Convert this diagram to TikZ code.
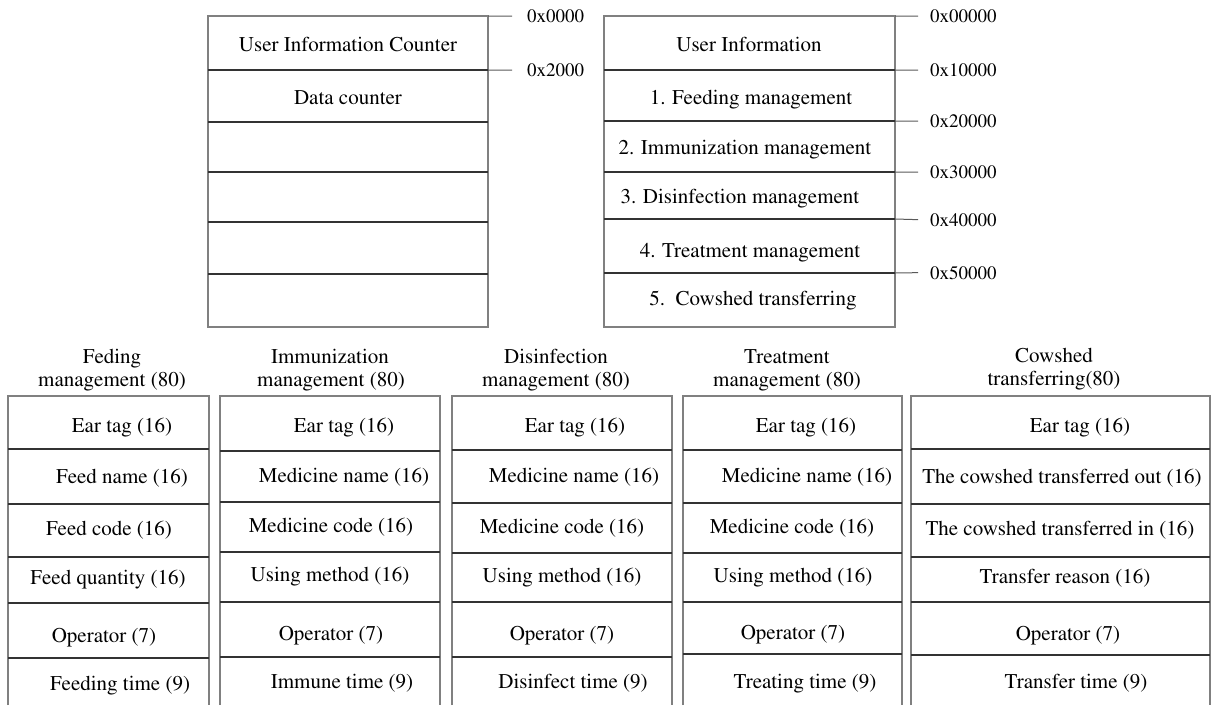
\documentclass[tikz,border=0pt]{standalone}
\usepackage[T1]{fontenc}
\usepackage{times}
\begin{document}
\begin{tikzpicture}[x=1pt,y=-1pt,
  frame/.style={draw=black!50, line width=1.1pt},
  rowline/.style={draw=black!80, line width=1.1pt},
  tick/.style={draw=black!65, line width=1pt},
  cell/.style={anchor=base, inner sep=0pt, font=\fontsize{21}{25}\selectfont},
  addr/.style={anchor=base west, inner sep=0pt, font=\fontsize{19}{22}\selectfont}]
\useasboundingbox (0,0) rectangle (1214,705);

% ---------- counter area (left memory map) ----------
\draw[frame] (208,16) rectangle (488,327);
\foreach \y in {70,122,172,222,274} \draw[rowline] (208,\y) -- (488,\y);
\node[cell] (uic) at (348,51) {User Information Counter};
\node[cell] (dc)  at (348,104) {Data counter};
\coordinate (l0) at (488,16);
\coordinate (l1) at (488,70);
\node[addr] (a0) at (527,22.5) {0x0000};
\node[addr] (a1) at (527,76.5) {0x2000};
\draw[tick] (l0) -- ([xshift=-15pt]a0.west);
\draw[tick] (l1) -- ([xshift=-15pt]a1.west);

% ---------- user information area (right memory map) ----------
\draw[frame] (604,16) rectangle (895,327);
\foreach \y in {70,121,172,219,273} \draw[rowline] (604,\y) -- (895,\y);
\node[cell] (ui) at (749,51)  {User Information};
\node[cell] (m1) at (751,104) {1. Feeding management};
\node[cell] (m2) at (745,154) {2. Immunization management};
\node[cell] (m3) at (740,203) {3. Disinfection management};
\node[cell] (m4) at (750,257) {4. Treatment management};
\node[cell] (m5) at (753,305) {5.\ \ Cowshed transferring};
\foreach \n/\y/\b/\t in {0/16/22.5/0x00000, 1/70/76.5/0x10000, 2/121/127.5/0x20000,
                         3/172/178.5/0x30000, 4/219/226/0x40000, 5/273/279/0x50000} {
  \coordinate (r\n) at (895,\y);
  \node[addr] (b\n) at (930,\b) {\t};
  \draw[tick] (r\n) -- ([xshift=-12pt]b\n.west);
}

% ---------- record layouts ----------
% Feeding
\node[cell] (h1a) at (112,363) {Feding};
\node[cell] (h1b) at (112,386) {management (80)};
\draw[frame] (8,705) -- (8,396) -- (209,396) -- (209,705);
\foreach \y in {449,504,557,603,658} \draw[rowline] (8,\y) -- (209,\y);
\node[cell] (f1) at (122,432) {Ear tag (16)};
\node[cell] (f2) at (122,483) {Feed name (16)};
\node[cell] (f3) at (109,535) {Feed code (16)};
\node[cell] (f4) at (108,584) {Feed quantity (16)};
\node[cell] (f5) at (104,642) {Operator (7)};
\node[cell] (f6) at (120,690) {Feeding time (9)};

% Immunization
\node[cell] (h2a) at (330,363) {Immunization};
\node[cell] (h2b) at (331,386) {management (80)};
\draw[frame] (220,705) -- (220,396) -- (440,396) -- (440,705);
\foreach \y in {451,502,552,602,657} \draw[rowline] (220,\y) -- (440,\y);
\node[cell] (i1) at (344,432) {Ear tag (16)};
\node[cell] (i2) at (344,482) {Medicine name (16)};
\node[cell] (i3) at (331,532) {Medicine code (16)};
\node[cell] (i4) at (330,581) {Using method (16)};
\node[cell] (i5) at (331,640) {Operator (7)};
\node[cell] (i6) at (342,688) {Immune time (9)};

% Disinfection
\node[cell] (h3a) at (556,363) {Disinfection};
\node[cell] (h3b) at (556,386) {management (80)};
\draw[frame] (452,705) -- (452,396) -- (672,396) -- (672,705);
\foreach \y in {450,503,553,602,657} \draw[rowline] (452,\y) -- (672,\y);
\node[cell] (d1) at (575,432) {Ear tag (16)};
\node[cell] (d2) at (574,482) {Medicine name (16)};
\node[cell] (d3) at (562,533) {Medicine code (16)};
\node[cell] (d4) at (562,582) {Using method (16)};
\node[cell] (d5) at (562,640) {Operator (7)};
\node[cell] (d6) at (573,688) {Disinfect time (9)};

% Treatment
\node[cell] (h4a) at (787,363) {Treatment};
\node[cell] (h4b) at (787,386) {management (80)};
\draw[frame] (683,705) -- (683,396) -- (902,396) -- (902,705);
\foreach \y in {450,503,553,602,654} \draw[rowline] (683,\y) -- (902,\y);
\node[cell] (t1) at (806,432) {Ear tag (16)};
\node[cell] (t2) at (807,482) {Medicine name (16)};
\node[cell] (t3) at (792,533) {Medicine code (16)};
\node[cell] (t4) at (793,582) {Using method (16)};
\node[cell] (t5) at (793,639) {Operator (7)};
\node[cell] (t6) at (805,688) {Treating time (9)};

% Cowshed transferring
\node[cell] (h5a) at (1054,362) {Cowshed};
\node[cell] (h5b) at (1054,385) {transferring(80)};
\draw[frame] (911,705) -- (911,396) -- (1210,396) -- (1210,705);
\foreach \y in {449,504,557,602,655} \draw[rowline] (911,\y) -- (1210,\y);
\node[cell] (c1) at (1080,432) {Ear tag (16)};
\node[cell] (c2) at (1062,483) {The cowshed transferred out (16)};
\node[cell] (c3) at (1060,535) {The cowshed transferred in (16)};
\node[cell] (c4) at (1065,583) {Transfer reason (16)};
\node[cell] (c5) at (1068,640) {Operator (7)};
\node[cell] (c6) at (1076,688) {Transfer time (9)};
\end{tikzpicture}
\end{document}
